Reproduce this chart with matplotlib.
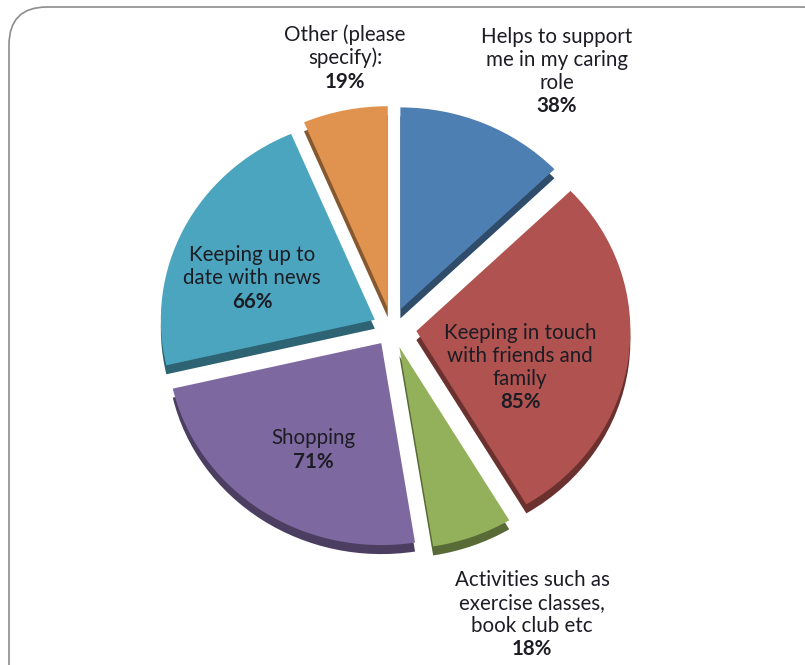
import matplotlib
matplotlib.use("Agg")
import matplotlib.pyplot as plt
from matplotlib.patches import FancyBboxPatch
import matplotlib.colors as mcolors

# Datos del grafico
categorias = [["Helps to support", "me in my caring", "role"],
              ["Keeping in touch", "with friends and", "family"],
              ["Activities such as", "exercise classes,", "book club etc"],
              ["Shopping"],
              ["Keeping up to", "date with news"],
              ["Other (please", "specify):"]]
valores = [38, 85, 18, 71, 66, 19]
colores = ["#4e7fb3", "#b0524f", "#93b05a", "#7e68a0", "#4ba5be", "#e0934f"]
explode = [0.10, 0.115, 0.10, 0.09, 0.09, 0.10]

# Posiciones de las etiquetas (pixeles, centro de la primera linea)
pos_etiquetas = [(557, 37), (520, 333), (532, 580), (313, 438), (252, 255), (345, 35)]
paso = 22.8

def oscurecer(c, f=0.6):
    r, g, b = mcolors.to_rgb(c)
    return (r * f, g * f, b * f)

fig = plt.figure(figsize=(8.05, 6.65), dpi=100)

# Eje del pastel
ax = fig.add_axes([0, 0, 1, 1])
rx, ry = 214.0, 202.0
cx, cy = 392.0, 328.0
profundidad = 9.0 / ry

# Sombra (efecto 3D)
ax.pie(valores, colors=[oscurecer(c) for c in colores], startangle=90,
       counterclock=False, explode=explode, center=(0, -profundidad),
       wedgeprops=dict(linewidth=0))
ax.pie(valores, colors=colores, startangle=90, counterclock=False,
       explode=explode, wedgeprops=dict(linewidth=0))
ax.set_aspect("auto")
ax.set_xlim(-cx / rx, (805 - cx) / rx)
ax.set_ylim(-(665 - cy) / ry, cy / ry)
ax.axis("off")

# Eje de texto y marco
ax2 = fig.add_axes([0, 0, 1, 1], facecolor="none")
ax2.set_xlim(0, 805)
ax2.set_ylim(665, 0)
ax2.axis("off")
marco = FancyBboxPatch((9, 7), 830, 700, boxstyle="round,pad=0,rounding_size=38",
                       fill=False, edgecolor="#8c8c8c", linewidth=1.2)
ax2.add_patch(marco)

fuente = "Lato"
for lineas, v, (x, y) in zip(categorias, valores, pos_etiquetas):
    for i, linea in enumerate(lineas):
        ax2.text(x, y + i * paso, linea, ha="center", va="center", fontsize=14.8,
                 family=fuente, color="#1c1c24")
    ax2.text(x, y + len(lineas) * paso + 1, f"{v}%", ha="center", va="center",
             fontsize=14.8, family=fuente, fontweight="bold", color="#1c1c24")

fig.savefig("out.png", dpi=100)
